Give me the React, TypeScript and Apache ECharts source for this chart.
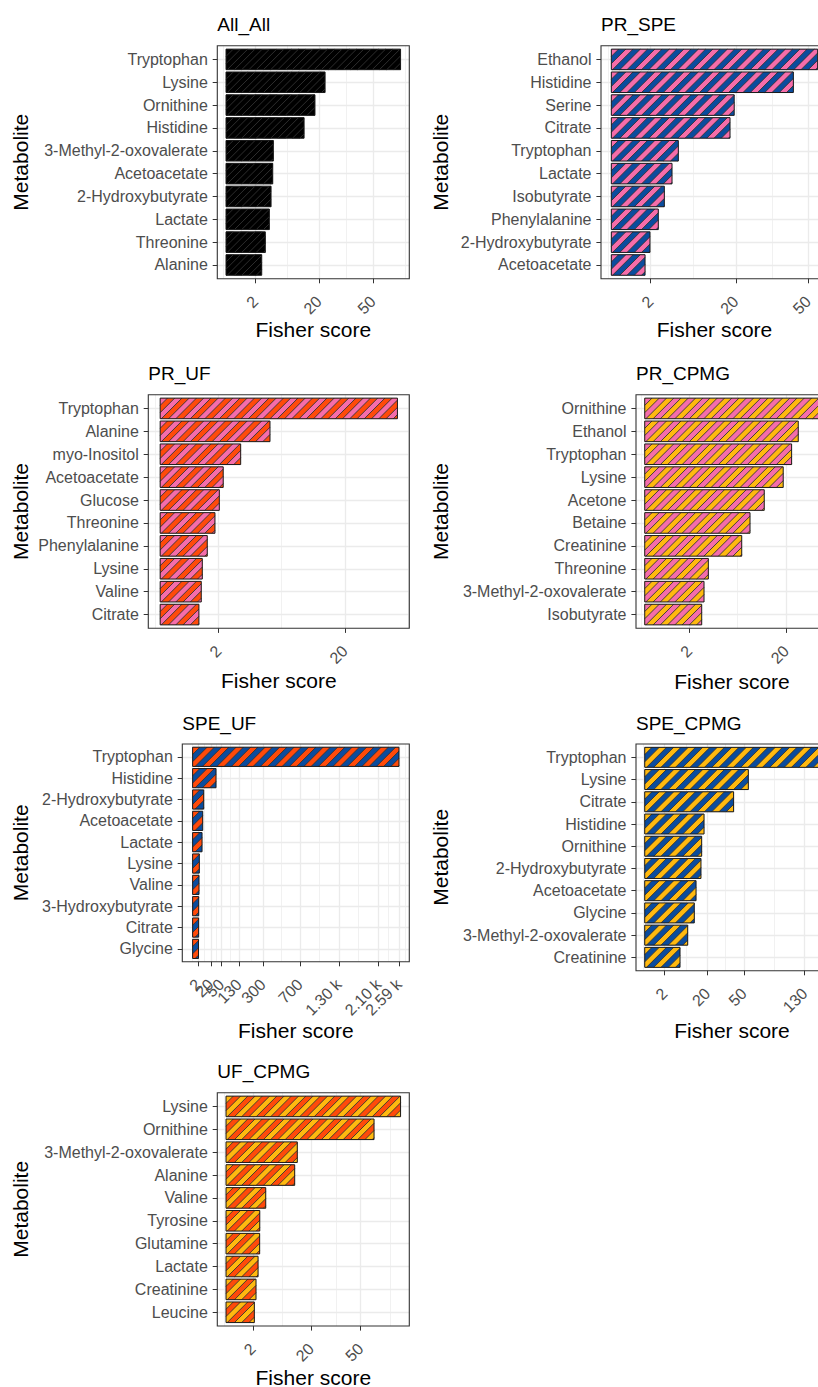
import React, { useEffect, useRef } from "react";
import * as echarts from "echarts";

// ---------------- data ----------------
const tickValues = [2, 20, 50, 130, 300, 700, 1300, 2100, 2590];
const tickLabels = ["2", "20", "50", "130", "300", "700", "1.30 k", "2.10 k", "2.59 k"];

const panelTitles = ["All_All", "PR_SPE", "PR_UF", "PR_CPMG", "SPE_UF", "SPE_CPMG", "UF_CPMG"];

const allAllMetabolites = ["Tryptophan", "Lysine", "Ornithine", "Histidine", "3-Methyl-2-oxovalerate", "Acetoacetate", "2-Hydroxybutyrate", "Lactate", "Threonine", "Alanine"];
const allAllScores = [70.5, 22.7, 18.3, 14.1, 5.18, 5.05, 4.69, 4.34, 3.57, 2.95];

const prSpeMetabolites = ["Ethanol", "Histidine", "Serine", "Citrate", "Tryptophan", "Lactate", "Isobutyrate", "Phenylalanine", "2-Hydroxybutyrate", "Acetoacetate"];
const prSpeScores = [55, 42.8, 19.5, 18.2, 5.8, 4.76, 3.63, 2.85, 1.93, 1.47];

const prUfMetabolites = ["Tryptophan", "Alanine", "myo-Inositol", "Acetoacetate", "Glucose", "Threonine", "Phenylalanine", "Lysine", "Valine", "Citrate"];
const prUfScores = [33, 7.07, 3.8, 2.33, 2.05, 1.76, 1.3, 1.04, 0.99, 0.88];

const prCpmgMetabolites = ["Ornithine", "Ethanol", "Tryptophan", "Lysine", "Acetone", "Betaine", "Creatinine", "Threonine", "3-Methyl-2-oxovalerate", "Isobutyrate"];
const prCpmgScores = [30.5, 23.6, 21.6, 19.2, 14.3, 11.1, 9.42, 4.05, 3.52, 3.25];

const speUfMetabolites = ["Tryptophan", "Histidine", "2-Hydroxybutyrate", "Acetoacetate", "Lactate", "Lysine", "Valine", "3-Hydroxybutyrate", "Citrate", "Glycine"];
const speUfScores = [2590, 33.3, 7.5, 6.2, 5.4, 2.73, 2.5, 2.26, 2.2, 2.1];

const speCpmgMetabolites = ["Tryptophan", "Lysine", "Citrate", "Histidine", "Ornithine", "2-Hydroxybutyrate", "Acetoacetate", "Glycine", "3-Methyl-2-oxovalerate", "Creatinine"];
const speCpmgScores = [155, 54.6, 40.2, 17.9, 16.5, 16.1, 13.4, 12.5, 9.4, 6.34];

const ufCpmgMetabolites = ["Lysine", "Ornithine", "3-Methyl-2-oxovalerate", "Alanine", "Valine", "Tyrosine", "Glutamine", "Lactate", "Creatinine", "Leucine"];
const ufCpmgScores = [84, 60.4, 14.0, 13.0, 4.35, 3.14, 3.12, 2.83, 2.48, 2.21];

const panelMetabolites = [allAllMetabolites, prSpeMetabolites, prUfMetabolites, prCpmgMetabolites, speUfMetabolites, speCpmgMetabolites, ufCpmgMetabolites];
const panelScores = [allAllScores, prSpeScores, prUfScores, prCpmgScores, speUfScores, speCpmgScores, ufCpmgScores];

// ---------------- styles / layout ----------------
const FONT = '"Liberation Sans", Arial, Helvetica, sans-serif';
const AXIS_TEXT = "#4D4D4D";
const GRID = "#EBEBEB";

const BLUE = "#0B4C9E";
const PINK = "#F56DAA";
const ORANGE = "#FF4A0A";
const GOLD = "#FFB90F";

const panelFills = [
  { bg: "#000000", stripe: "#000000" },
  { bg: BLUE, stripe: PINK },
  { bg: ORANGE, stripe: PINK },
  { bg: GOLD, stripe: PINK },
  { bg: BLUE, stripe: ORANGE },
  { bg: BLUE, stripe: GOLD },
  { bg: ORANGE, stripe: GOLD },
];

const layouts = [
  { left: 217.3, top: 45.7, width: 192, height: 233, xTitleY: 329, yTitleX: 20.8 },
  { left: 601, top: 45.7, width: 227, height: 233, xTitleY: 329.5, yTitleX: 440 },
  { left: 148.3, top: 394.7, width: 261, height: 233.6, xTitleY: 680.5, yTitleX: 20.8 },
  { left: 636, top: 394.7, width: 192, height: 233.6, xTitleY: 681, yTitleX: 440 },
  { left: 182.3, top: 744, width: 227, height: 217.7, xTitleY: 1030, yTitleX: 20.8 },
  { left: 636, top: 744, width: 192, height: 226.7, xTitleY: 1030, yTitleX: 440 },
  { left: 217.3, top: 1092.7, width: 192, height: 233.3, xTitleY: 1377, yTitleX: 20.8 },
];

const STRIPE_PERIOD = 14.5;
const LABEL_GROUPS = 3; // labels spread over several axes so none is dropped for overlap
const X_AXES_PER_PANEL = 2 + LABEL_GROUPS;

// ---------------- helpers ----------------
type Pt = [number, number];

function clipHalf(pts: Pt[], f: (p: Pt) => number): Pt[] {
  const out: Pt[] = [];
  for (let i = 0; i < pts.length; i++) {
    const a = pts[i];
    const b = pts[(i + 1) % pts.length];
    const fa = f(a);
    const fb = f(b);
    if (fa >= 0) out.push(a);
    if ((fa >= 0) !== (fb >= 0)) {
      const t = fa / (fa - fb);
      out.push([a[0] + t * (b[0] - a[0]), a[1] + t * (b[1] - a[1])]);
    }
  }
  return out;
}

function minorBreaks(major: number[], lo: number, hi: number): number[] {
  const b = major.filter((v) => v >= lo && v <= hi);
  if (b.length < 2) return [];
  const bd = b[1] - b[0];
  if (lo < b[0]) b.unshift(b[0] - bd);
  if (hi > b[b.length - 1]) b.push(b[b.length - 1] + bd);
  const out: number[] = [];
  for (let i = 0; i < b.length - 1; i++) out.push((b[i] + b[i + 1]) / 2);
  return out.filter((v) => v >= lo && v <= hi);
}

function makeRenderItem(bg: string, stripe: string) {
  return (params: any, api: any) => {
    const v = api.value(0);
    const y = api.value(1);
    const p0 = api.coord([0, y]);
    const p1 = api.coord([v, y]);
    const h = api.size([0, 0.9])[1];
    const x0 = p0[0];
    const x1 = p1[0];
    const y0 = p0[1] - h / 2;
    const y1 = p0[1] + h / 2;
    const children: any[] = [];
    children.push({ type: "rect", shape: { x: x0, y: y0, width: x1 - x0, height: h }, style: { fill: bg } });
    const rect: Pt[] = [[x0, y0], [x1, y0], [x1, y1], [x0, y1]];
    const P = STRIPE_PERIOD;
    const half = P / 2;
    const cMin = x0 + y0;
    const cMax = x1 + y1;
    for (let c = cMin - P; c < cMax + P; c += P) {
      let poly = clipHalf(rect, (p) => p[0] + p[1] - c);
      poly = clipHalf(poly, (p) => c + half - (p[0] + p[1]));
      if (poly.length >= 3) {
        children.push({ type: "polygon", shape: { points: poly }, style: { fill: stripe } });
      }
    }
    for (let c = cMin - P; c < cMax + P; c += half) {
      const xs = Math.max(x0, c - y1);
      const xe = Math.min(x1, c - y0);
      if (xe - xs > 0.01) {
        children.push({
          type: "line",
          shape: { x1: xs, y1: c - xs, x2: xe, y2: c - xe },
          style: { stroke: "#333333", lineWidth: 0.9 },
        });
      }
    }
    children.push({
      type: "rect",
      shape: { x: x0, y: y0, width: x1 - x0, height: h },
      style: { fill: "none", stroke: "#1A1A1A", lineWidth: 1 },
    });
    return { type: "group", children };
  };
}

function buildOption() {
  const grid: any[] = [];
  const xAxis: any[] = [];
  const yAxis: any[] = [];
  const series: any[] = [];
  const graphic: any[] = [];
  const majorS = tickValues.map((t) => Math.sqrt(t));
  const xFormatter = (val: number) => {
    const idx = majorS.findIndex((s) => Math.abs(s - val) < 1e-6);
    return idx >= 0 ? tickLabels[idx] : "";
  };

  panelTitles.forEach((title, i) => {
    const L = layouts[i];
    const names = panelMetabolites[i];
    const scores = panelScores[i];
    const maxS = Math.sqrt(Math.max(...scores));
    const lo = -0.05 * maxS;
    const hi = 1.05 * maxS;
    grid.push({
      left: L.left,
      top: L.top,
      width: L.width,
      height: L.height,
      show: false,
      containLabel: false,
      outerBoundsMode: "none",
    });

    // main axis: ticks + major grid
    xAxis.push({
      type: "value",
      gridIndex: i,
      min: lo,
      max: hi,
      position: "bottom",
      axisLine: { show: false, onZero: false },
      axisTick: { show: true, length: 4.6, customValues: majorS, lineStyle: { color: "#333333", width: 1 } },
      axisLabel: { show: false },
      splitLine: { show: true, lineStyle: { color: GRID, width: 1.3 } },
    });
    // minor grid
    xAxis.push({
      type: "value",
      gridIndex: i,
      min: lo,
      max: hi,
      position: "bottom",
      axisLine: { show: false, onZero: false },
      axisTick: { show: false, customValues: minorBreaks(majorS, lo, hi) },
      axisLabel: { show: false },
      splitLine: { show: true, lineStyle: { color: GRID, width: 0.7 } },
    });
    // label axes
    for (let g = 0; g < LABEL_GROUPS; g++) {
      const vals = majorS.filter((_, k) => k % LABEL_GROUPS === g);
      xAxis.push({
        type: "value",
        gridIndex: i,
        min: lo,
        max: hi,
        position: "bottom",
        axisLine: { show: false, onZero: false },
        axisTick: { show: false, customValues: vals },
        splitLine: { show: false },
        axisLabel: {
          show: true,
          customValues: vals,
          rotate: 45,
          margin: 20,
          hideOverlap: false,
          showMinLabel: true,
          showMaxLabel: true,
          fontSize: 16,
          fontFamily: FONT,
          color: AXIS_TEXT,
          formatter: xFormatter,
        },
      });
    }

    const cats = names.map((_, k) => k + 1);
    yAxis.push({
      type: "value",
      gridIndex: i,
      inverse: true,
      min: 0.4,
      max: names.length + 0.6,
      axisLine: { show: false, onZero: false },
      axisTick: { show: true, length: 4.6, customValues: cats, lineStyle: { color: "#333333", width: 1 } },
      axisLabel: {
        show: true,
        customValues: cats,
        margin: 9.5,
        hideOverlap: false,
        showMinLabel: true,
        showMaxLabel: true,
        fontSize: 16,
        fontFamily: FONT,
        color: AXIS_TEXT,
        formatter: (val: number) => names[Math.round(val) - 1] ?? "",
      },
      splitLine: { show: true, lineStyle: { color: GRID, width: 1.3 } },
    });
    series.push({
      type: "custom",
      xAxisIndex: X_AXES_PER_PANEL * i,
      yAxisIndex: i,
      renderItem: makeRenderItem(panelFills[i].bg, panelFills[i].stripe),
      encode: { x: 0, y: 1 },
      data: scores.map((s, k) => [Math.sqrt(s), k + 1]),
      z: 3,
    });

    graphic.push({
      type: "rect",
      z: 10,
      silent: true,
      shape: { x: L.left, y: L.top, width: L.width, height: L.height },
      style: { fill: "none", stroke: "#333333", lineWidth: 1.1 },
    });
    graphic.push({
      type: "text",
      z: 10,
      x: L.left,
      y: L.top - 21,
      style: { text: title, fontSize: 19, fontFamily: FONT, fill: "#000000", align: "left", verticalAlign: "middle", textAlign: "left", textVerticalAlign: "middle" },
    });
    graphic.push({
      type: "text",
      z: 10,
      x: L.left + L.width / 2,
      y: L.xTitleY,
      style: { text: "Fisher score", fontSize: 21, fontFamily: FONT, fill: "#000000", align: "center", verticalAlign: "middle", textAlign: "center", textVerticalAlign: "middle" },
    });
    graphic.push({
      type: "text",
      z: 10,
      x: L.yTitleX,
      y: L.top + L.height / 2,
      rotation: Math.PI / 2,
      style: { text: "Metabolite", fontSize: 21, fontFamily: FONT, fill: "#000000", align: "center", verticalAlign: "middle", textAlign: "center", textVerticalAlign: "middle" },
    });
  });

  return { animation: false, backgroundColor: "#FFFFFF", grid, xAxis, yAxis, series, graphic };
}

export default function App() {
  const ref = useRef<HTMLDivElement>(null);
  useEffect(() => {
    if (!ref.current) return;
    const chart = echarts.init(ref.current, null, { renderer: "svg" });
    chart.setOption(buildOption() as any);
    return () => chart.dispose();
  }, []);
  return (
    <div
      ref={ref}
      style={{ position: "absolute", left: 0, top: 0, width: 818, height: 1387, background: "#FFFFFF", overflow: "hidden" }}
    />
  );
}
